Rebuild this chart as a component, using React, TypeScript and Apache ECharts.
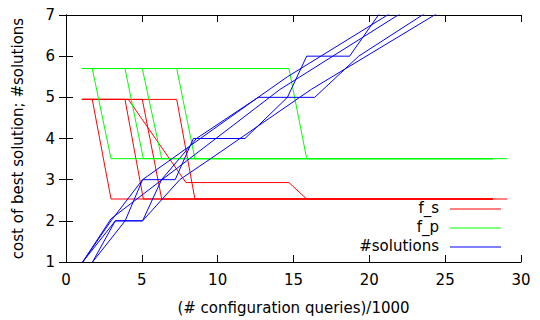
import React, { useEffect, useRef } from "react";
import * as echarts from "echarts";

const FONT = "'DejaVu Sans', sans-serif";

// x ticks / y ticks
const xTicks = [0, 5, 10, 15, 20, 25, 30];
const yTicks = [1, 2, 3, 4, 5, 6, 7];

// f_s (cost of best solution, red) — one array per run
const fsRun1 = [[1.05, 4.95], [1.73, 4.95], [2.97, 2.53], [28.15, 2.53]];
const fsRun2 = [[1.05, 4.95], [3.89, 4.95], [5.1, 2.53], [28.15, 2.53]];
const fsRun3 = [[1.05, 4.95], [5.03, 4.95], [6.31, 2.53], [28.15, 2.53]];
const fsRun4 = [[1.05, 4.95], [7.3, 4.95], [8.5, 2.53], [29.1, 2.53]];
const fsRun5 = [[1.05, 4.95], [4.11, 4.95], [7.91, 2.93], [14.7, 2.93], [15.87, 2.53], [28.15, 2.53]];

// f_p (green)
const fpRun1 = [[1.05, 5.7], [1.73, 5.7], [2.97, 3.51], [28.15, 3.51]];
const fpRun2 = [[1.05, 5.7], [3.89, 5.7], [5.1, 3.51], [28.15, 3.51]];
const fpRun3 = [[1.05, 5.7], [5.03, 5.7], [6.31, 3.51], [28.15, 3.51]];
const fpRun4 = [[1.05, 5.7], [7.3, 5.7], [8.5, 3.51], [29.1, 3.51]];
const fpRun5 = [[1.05, 5.7], [14.7, 5.7], [15.87, 3.51], [28.15, 3.51]];

// #solutions (blue)
const solRun1 = [[1.1, 1], [2.97, 2], [5.05, 3], [7.2, 3], [8.4, 4], [11.8, 4], [14.6, 5], [15.87, 6], [18.7, 6], [20.6, 7], [21.2, 7.3]];
const solRun2 = [[1.1, 1], [3.25, 2], [5.05, 2], [6.3, 3], [8.6, 4], [12.67, 5], [16.4, 5], [19.3, 6], [23.5, 7], [24.2, 7.15]];
const solRun3 = [[1.75, 1], [3.25, 2], [3.9, 2], [5.05, 3], [12.67, 5], [14.6, 5.5], [21.2, 7], [22, 7.2]];
const solRun4 = [[1.1, 1], [2.97, 2.05], [14.1, 5.19], [21.9, 7], [22.5, 7.15]];
const solRun5 = [[1.75, 1], [3.9, 2], [5.05, 2], [7.5, 3], [9.5, 3.5], [16.2, 5.2], [24.3, 7], [25, 7.15]];

const fsRuns = [fsRun1, fsRun2, fsRun3, fsRun4, fsRun5];
const fpRuns = [fpRun1, fpRun2, fpRun3, fpRun4, fpRun5];
const solRuns = [solRun1, solRun2, solRun3, solRun4, solRun5];

const legendNames = ["f_s", "f_p", "#solutions"];
const colors = ["#ff0000", "#00ff00", "#0000ff"];

export default function App() {
  const ref = useRef<HTMLDivElement>(null);
  useEffect(() => {
    if (!ref.current) return;
    const chart = echarts.init(ref.current, null, { renderer: "svg" });
    const mk = (runs: number[][][], color: string) =>
      runs.map((d) => ({
        type: "line",
        data: d,
        symbol: "none",
        showSymbol: false,
        clip: true,
        silent: true,
        lineStyle: { color, width: 1 },
      }));
    const axisCommon = {
      axisLine: { show: true, lineStyle: { color: "#000", width: 1 } },
      axisTick: { show: true, inside: true, length: 7, lineStyle: { color: "#000" } },
      splitLine: { show: false },
    };
    const legendY = [209, 228, 247];
    const graphic: any[] = [];
    legendNames.forEach((n, i) => {
      graphic.push({
        type: "text",
        right: 540 - 439,
        top: legendY[i] - 9,
        style: { text: n, fill: "#000", font: `15px ${FONT}`, textAlign: "right" },
      });
      graphic.push({
        type: "line",
        shape: { x1: 450, y1: legendY[i], x2: 501, y2: legendY[i] },
        style: { stroke: colors[i], lineWidth: 1 },
      });
    });
    chart.setOption({
      animation: false,
      grid: { left: 66, right: 19, top: 15, bottom: 56, containLabel: false },
      xAxis: [
        {
          type: "value",
          min: xTicks[0],
          max: xTicks[xTicks.length - 1],
          interval: 5,
          position: "bottom",
          ...axisCommon,
          axisLabel: { color: "#000", fontSize: 15, fontFamily: FONT, margin: 10 },
          name: "(# configuration queries)/1000",
          nameLocation: "middle",
          nameGap: 38,
          nameTextStyle: { color: "#000", fontSize: 15, fontFamily: FONT },
        },
        {
          type: "value",
          min: xTicks[0],
          max: xTicks[xTicks.length - 1],
          interval: 5,
          position: "top",
          ...axisCommon,
          axisLabel: { show: false },
        },
      ],
      yAxis: [
        {
          type: "value",
          min: yTicks[0],
          max: yTicks[yTicks.length - 1],
          interval: 1,
          position: "left",
          ...axisCommon,
          axisLabel: { color: "#000", fontSize: 15, fontFamily: FONT, margin: 11 },
          name: "cost of best solution; #solutions",
          nameLocation: "middle",
          nameGap: 41,
          nameTextStyle: { color: "#000", fontSize: 15, fontFamily: FONT },
        },
        {
          type: "value",
          min: yTicks[0],
          max: yTicks[yTicks.length - 1],
          interval: 1,
          position: "right",
          ...axisCommon,
          axisLabel: { show: false },
        },
      ],
      graphic,
      series: [...mk(fsRuns, colors[0]), ...mk(fpRuns, colors[1]), ...mk(solRuns, colors[2])],
    });
    return () => chart.dispose();
  }, []);
  return (
    <div
      ref={ref}
      style={{ position: "fixed", left: 0, top: 0, width: 540, height: 320, background: "#fff" }}
    />
  );
}
